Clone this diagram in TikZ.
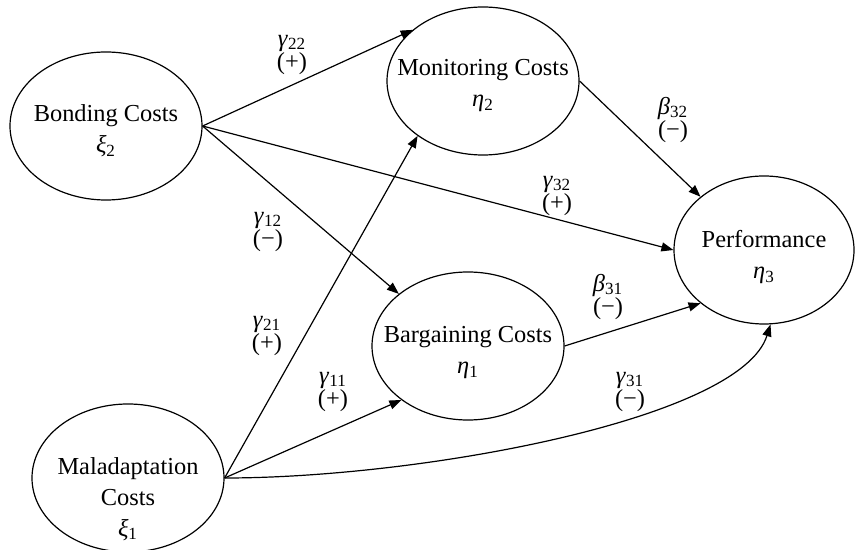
\documentclass[tikz,border=0pt]{standalone}
\usepackage{fontspec}
\setmainfont{Liberation Serif}
\usetikzlibrary{arrows.meta,shapes.geometric}

% Greek symbol with an upright subscript
\newcommand{\coefsym}[2]{\textit{#1}\textsubscript{#2}}

\tikzset{
  latent/.style={draw, ellipse, line width=0.6pt, minimum width=96pt,
    minimum height=74pt, inner sep=0pt},
  latenttext/.style={align=center, inner sep=0pt,
    font=\fontsize{12.2}{15.5}\selectfont},
  coef/.style={align=center, inner sep=0pt,
    font=\fontsize{12.2}{11.8}\selectfont},
  link/.style={-{Triangle[length=6pt,width=4.5pt]}, line width=0.6pt},
}

\begin{document}
\begin{tikzpicture}[x=0.5pt, y=-0.5pt]
\useasboundingbox (0,0) rectangle (856,550);

% latent constructs
\node[latent] (bond) at (106,126) {};
\node[latent] (mon)  at (483,81)  {};
\node[latent] (barg) at (468,346) {};
\node[latent, minimum width=90pt] (perf) at (764,250) {};
\node[latent] (mal)  at (128,478) {};

% construct names and symbols
\node[latenttext, yshift=-2.5pt] (bondtxt) at (bond.center) {Bonding Costs\\ \coefsym{ξ}{2}};
\node[latenttext, yshift=-2.5pt] (montxt)  at (mon.center)  {Monitoring Costs\\ \coefsym{η}{2}};
\node[latenttext, yshift=-3.5pt] (bargtxt) at (barg.center) {Bargaining Costs\\ \coefsym{η}{1}};
\node[latenttext, yshift=-3.5pt] (perftxt) at (perf.center) {Performance\\ \coefsym{η}{3}};
\node[latenttext, yshift=-10.5pt] (maltxt) at (mal.center)  {Maladaptation\\ Costs\\ \coefsym{ξ}{1}};

% structural paths
\draw[link] (bond.east) -- (mon.144);
\draw[link] (bond.east) -- (perf.180);
\draw[link] (bond.east) -- (barg.143);
\draw[link] (mal.east) -- (mon.220);
\draw[link] (mal.east) -- (barg.219);
\draw[link] (mal.east) .. controls +(196,0) and +(-30,95) .. (perf.275);
\draw[link] (mon.east) -- (perf.140);
\draw[link] (barg.east) -- (perf.220);

% path coefficients with expected signs
\node[coef] (g22) at (292,55)  {\coefsym{γ}{22}\\(+)};
\node[coef] (g12) at (268,232) {\coefsym{γ}{12}\\(−)};
\node[coef] (g21) at (267,336) {\coefsym{γ}{21}\\(+)};
\node[coef] (g11) at (333,392) {\coefsym{γ}{11}\\(+)};
\node[coef] (b32) at (673,120) {\coefsym{β}{32}\\(−)};
\node[coef] (g32) at (557,196) {\coefsym{γ}{32}\\(+)};
\node[coef] (b31) at (608,297) {\coefsym{β}{31}\\(−)};
\node[coef] (g31) at (630,392) {\coefsym{γ}{31}\\(−)};
\end{tikzpicture}
\end{document}
